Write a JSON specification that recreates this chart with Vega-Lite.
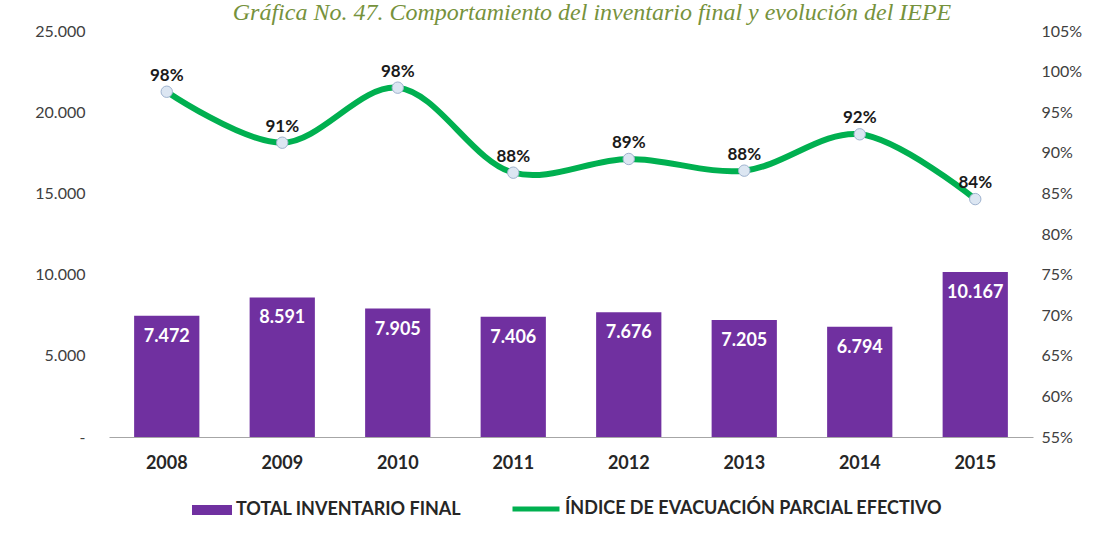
{
  "$schema": "https://vega.github.io/schema/vega-lite/v6.json",
  "autosize": {"type": "none"},
  "padding": {"left": 109, "top": 31, "right": 68, "bottom": 97},
  "width": 924,
  "height": 406,
  "background": "white",
  "title": {
    "text": "Gráfica No. 47. Comportamiento del inventario final y evolución del IEPE",
    "frame": "group",
    "anchor": "middle",
    "baseline": "alphabetic",
    "offset": 12,
    "dx": 21,
    "dy": 33,
    "font": "Liberation Serif",
    "fontStyle": "italic",
    "fontWeight": "normal",
    "fontSize": 24,
    "color": "#76923C"
  },
  "data": {
    "values": [
      {"year": "2008", "inv": 7472, "iepe": 0.9752},
      {"year": "2009", "inv": 8591, "iepe": 0.9124},
      {"year": "2010", "inv": 7905, "iepe": 0.9802},
      {"year": "2011", "inv": 7406, "iepe": 0.8755},
      {"year": "2012", "inv": 7676, "iepe": 0.8924},
      {"year": "2013", "inv": 7205, "iepe": 0.8780},
      {"year": "2014", "inv": 6794, "iepe": 0.9228},
      {"year": "2015", "inv": 10167, "iepe": 0.8430}
    ]
  },
  "encoding": {
    "x": {
      "field": "year",
      "type": "ordinal",
      "scale": {"paddingInner": 0.435, "paddingOuter": 0.2175},
      "axis": {
        "title": null,
        "labelAngle": 0,
        "ticks": false,
        "domainColor": "#A6A6A6",
        "domainWidth": 1,
        "labelFont": "Lato",
        "labelFontWeight": "bold",
        "labelFontSize": 18,
        "labelColor": "#262626",
        "labelPadding": 17
      }
    }
  },
  "layer": [
    {
      "encoding": {
        "y": {
          "field": "inv",
          "type": "quantitative",
          "scale": {"domain": [0, 25000], "nice": false},
          "axis": {
            "title": null,
            "orient": "left",
            "values": [0, 5000, 10000, 15000, 20000, 25000],
            "grid": false,
            "domain": false,
            "ticks": false,
            "labelExpr": "datum.value === 0 ? '-' : format(datum.value, ',.0f')",
            "labelFont": "Lato",
            "labelFontSize": 16,
            "labelColor": "#404040",
            "labelPadding": 24
          }
        }
      },
      "layer": [
        {
          "mark": {"type": "bar", "color": "#7030A0"},
          "encoding": {
            "color": {
              "datum": "TOTAL INVENTARIO FINAL",
              "type": "nominal",
              "scale": {"range": ["#7030A0"]},
              "legend": {
                "title": null,
                "orient": "none",
                "legendX": 83,
                "legendY": 459,
                "direction": "horizontal",
                "symbolType": "M-1,-0.25H1V0.25H-1Z",
                "symbolSize": 1600,
                "symbolStrokeWidth": 0,
                "symbolOpacity": 1,
                "labelOffset": 4,
                "labelFont": "Lato",
                "labelFontWeight": "bold",
                "labelFontSize": 18,
                "labelColor": "#262626",
                "labelLimit": 0
              }
            }
          }
        },
        {
          "mark": {
            "type": "text",
            "baseline": "middle",
            "dy": 21,
            "font": "Lato",
            "fontWeight": "bold",
            "fontSize": 18,
            "color": "white"
          },
          "encoding": {
            "text": {"field": "inv", "type": "quantitative", "format": ",.0f"}
          }
        }
      ]
    },
    {
      "encoding": {
        "y": {
          "field": "iepe",
          "type": "quantitative",
          "scale": {"domain": [0.55, 1.05], "nice": false, "zero": false},
          "axis": {
            "title": null,
            "orient": "right",
            "values": [0.55, 0.6, 0.65, 0.7, 0.75, 0.8, 0.85, 0.9, 0.95, 1.0, 1.05],
            "format": ".0%",
            "grid": false,
            "domain": false,
            "ticks": false,
            "labelFont": "Lato",
            "labelFontSize": 16,
            "labelColor": "#404040",
            "labelPadding": 8
          }
        }
      },
      "layer": [
        {
          "mark": {
            "type": "line",
            "interpolate": "catmull-rom",
            "strokeWidth": 6,
            "strokeCap": "round"
          },
          "encoding": {
            "stroke": {
              "datum": "ÍNDICE DE EVACUACIÓN PARCIAL EFECTIVO",
              "type": "nominal",
              "scale": {"range": ["#00B050"]},
              "legend": {
                "title": null,
                "orient": "none",
                "legendX": 401,
                "legendY": 452,
                "direction": "horizontal",
                "symbolType": "stroke",
                "symbolSize": 2209,
                "symbolStrokeWidth": 5,
                "labelOffset": 3,
                "labelFont": "Lato",
                "labelFontWeight": "bold",
                "labelFontSize": 18,
                "labelColor": "#262626",
                "labelLimit": 0
              }
            }
          }
        },
        {
          "mark": {
            "type": "point",
            "filled": true,
            "size": 130,
            "fill": "#DCE6F2",
            "stroke": "#9FB3CF",
            "strokeWidth": 1,
            "opacity": 1
          },
          "encoding": {}
        },
        {
          "mark": {
            "type": "text",
            "baseline": "middle",
            "dy": -16,
            "font": "Lato",
            "fontWeight": "bold",
            "fontSize": 17,
            "color": "#1A1A1A"
          },
          "encoding": {
            "text": {"field": "iepe", "type": "quantitative", "format": ".0%"}
          }
        }
      ]
    }
  ],
  "resolve": {"scale": {"y": "independent"}},
  "config": {
    "view": {"stroke": null},
    "locale": {
      "number": {"decimal": ",", "thousands": ".", "grouping": [3], "currency": ["$", ""]}
    }
  }
}
